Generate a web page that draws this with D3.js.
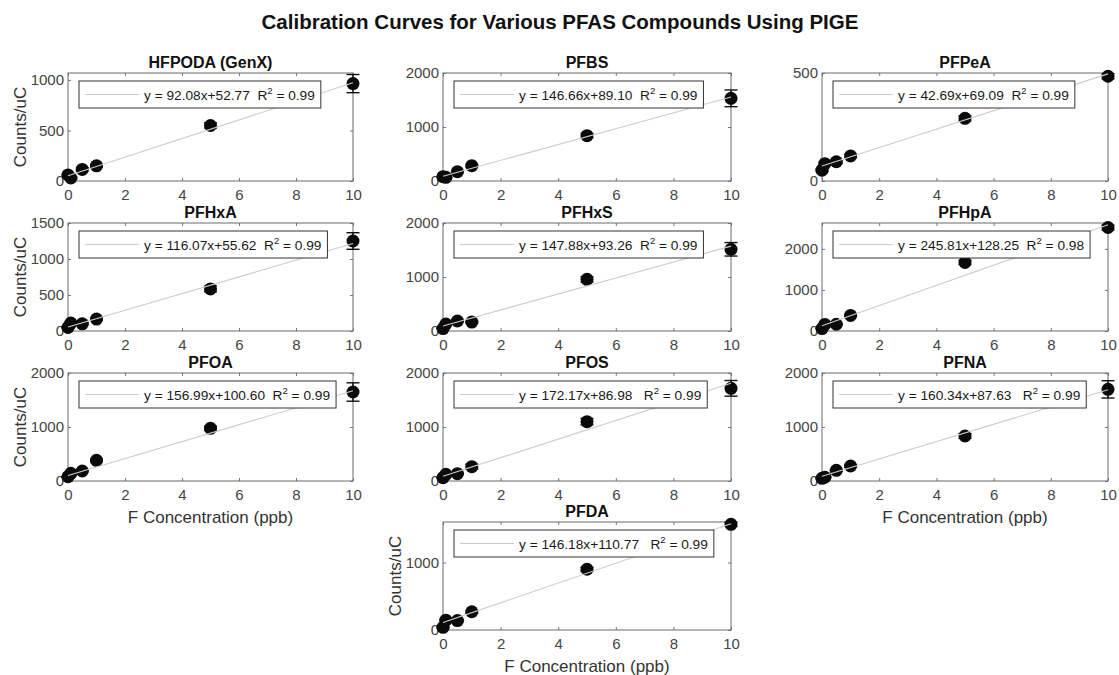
<!DOCTYPE html>
<html>
<head>
<meta charset="utf-8">
<script src="https://cdn.jsdelivr.net/npm/d3@7"></script>
<style>
  body { margin: 0; background: #fff; }
  svg { display: block; font-family: "Liberation Sans", Arial, sans-serif; }
  .legend-text { white-space: pre; }
</style>
</head>
<body>
<svg id="chart" width="1119" height="675"></svg>
<script>
// ---- data ----
const chartTitle = "Calibration Curves for Various PFAS Compounds Using PIGE";
const compounds = ["HFPODA (GenX)", "PFBS", "PFPeA", "PFHxA", "PFHxS", "PFHpA", "PFOA", "PFOS", "PFNA", "PFDA"];
const concentrations = [0, 0.1, 0.5, 1, 5, 10];   // F concentration (ppb)

// measured counts per uC, one row per compound
const counts = [
  [60, 30, 115, 150, 550, 965],
  [80, 68, 172, 283, 839, 1531],
  [50, 80, 89, 116, 290, 485],
  [50, 110, 100, 165, 585, 1250],
  [45, 130, 185, 165, 957, 1513],
  [60, 160, 165, 380, 1670, 2520],
  [80, 142, 185, 383, 975, 1648],
  [62, 123, 136, 265, 1099, 1716],
  [50, 70, 198, 278, 833, 1697],
  [40, 145, 140, 270, 900, 1566]
];
// standard deviation of counts per uC
const countErrors = [
  [10, 10, 15, 15, 25, 90],
  [10, 10, 15, 20, 40, 155],
  [5, 5, 8, 8, 12, 12],
  [10, 10, 15, 15, 40, 115],
  [10, 10, 15, 15, 50, 125],
  [10, 10, 15, 20, 50, 60],
  [10, 10, 15, 25, 40, 170],
  [10, 10, 15, 45, 60, 145],
  [10, 10, 15, 20, 45, 160],
  [10, 10, 15, 20, 30, 30]
];

// linear fit parameters
const slopes = [92.08, 146.66, 42.69, 116.07, 147.88, 245.81, 156.99, 172.17, 160.34, 146.18];
const intercepts = [52.77, 89.10, 69.09, 55.62, 93.26, 128.25, 100.60, 86.98, 87.63, 110.77];
const rSquared = [0.99, 0.99, 0.99, 0.99, 0.99, 0.98, 0.99, 0.99, 0.99, 0.99];
const labelGaps = [2, 2, 2, 2, 2, 2, 2, 3, 3, 3];

// axis limits and ticks
const yMax = [1070, 2000, 500, 1500, 2000, 2630, 2000, 2000, 2000, 1600];
const yTicks = [
  [0, 500, 1000],
  [0, 1000, 2000],
  [0, 500],
  [0, 500, 1000, 1500],
  [0, 1000, 2000],
  [0, 1000, 2000],
  [0, 1000, 2000],
  [0, 1000, 2000],
  [0, 1000, 2000],
  [0, 1000]
];
const xDomain = [0, 10];
const xTicks = [0, 2, 4, 6, 8, 10];
const xLabel = "F Concentration (ppb)";
const yLabel = "Counts/uC";

// ---- layout ----
const colBounds = [[68, 353], [443, 731], [822, 1108]];
const rowTops = [73, 223, 373, 522];
const boxH = 108;
const panelSlots = [[0,0],[1,0],[2,0],[0,1],[1,1],[2,1],[0,2],[1,2],[2,2],[1,3]];
const withYLabel = new Set([0, 3, 6, 9]);
const withXLabel = new Set([6, 8, 9]);

const svg = d3.select("#chart");

svg.append("text")
  .attr("x", 560).attr("y", 29)
  .attr("text-anchor", "middle")
  .attr("font-weight", "bold")
  .attr("font-size", 20.5)
  .attr("fill", "#111")
  .text(chartTitle);

const fitColor = "#d2caca";
const tickFmt = d3.format("d");

compounds.forEach((name, i) => {
  const [c, r] = panelSlots[i];
  const [x0, x1] = colBounds[c];
  const y0 = rowTops[r], y1 = y0 + boxH;

  const x = d3.scaleLinear().domain(xDomain).range([x0, x1]);
  const y = d3.scaleLinear().domain([0, yMax[i]]).range([y1, y0]);

  const g = svg.append("g");

  // axes (ticks point inward, as on a boxed plot)
  const styleAxis = sel => {
    sel.select(".domain").remove();
    sel.selectAll(".tick line").attr("stroke", "#777");
    sel.selectAll(".tick text").attr("fill", "#444").attr("font-size", 15)
      .attr("font-family", "Liberation Sans, Arial, sans-serif");
  };
  g.append("g").attr("transform", `translate(0,${y1})`)
    .call(d3.axisBottom(x).tickValues(xTicks).tickFormat(tickFmt).tickSizeInner(-3).tickSizeOuter(0).tickPadding(8))
    .call(styleAxis);
  g.append("g").attr("transform", `translate(0,${y0})`)
    .call(d3.axisTop(x).tickValues(xTicks).tickSizeInner(-3).tickSizeOuter(0).tickFormat(""))
    .call(styleAxis);
  g.append("g").attr("transform", `translate(${x0},0)`)
    .call(d3.axisLeft(y).tickValues(yTicks[i]).tickFormat(tickFmt).tickSizeInner(-3).tickSizeOuter(0).tickPadding(4))
    .call(styleAxis);
  g.append("g").attr("transform", `translate(${x1},0)`)
    .call(d3.axisRight(y).tickValues(yTicks[i]).tickSizeInner(-3).tickSizeOuter(0).tickFormat(""))
    .call(styleAxis);

  // plot box
  g.append("rect")
    .attr("x", x0).attr("y", y0)
    .attr("width", x1 - x0).attr("height", y1 - y0)
    .attr("fill", "none").attr("stroke", "#6a6a6a").attr("stroke-width", 1);

  const pts = concentrations.map((cx, k) => ({ cx, v: counts[i][k], e: countErrors[i][k] }));

  // error bars
  const eb = g.append("g").attr("stroke", "#111").attr("stroke-width", 1.4);
  pts.forEach(p => {
    const px = x(p.cx);
    eb.append("line").attr("x1", px).attr("x2", px).attr("y1", y(p.v - p.e)).attr("y2", y(p.v + p.e));
    [p.v - p.e, p.v + p.e].forEach(v => {
      eb.append("line").attr("x1", px - 6.5).attr("x2", px + 6.5).attr("y1", y(v)).attr("y2", y(v));
    });
  });

  // data points
  g.append("g").selectAll("circle").data(pts).join("circle")
    .attr("cx", p => x(p.cx)).attr("cy", p => y(p.v))
    .attr("r", 6.5).attr("fill", "#0a0a0a");

  // fitted line
  const fitLine = d3.line().x(d => x(d)).y(d => y(slopes[i] * d + intercepts[i]));
  g.append("path").datum(xDomain)
    .attr("d", fitLine)
    .attr("fill", "none").attr("stroke", fitColor).attr("stroke-width", 1.1);

  // legend
  const lx = x0 + 11, ly = y0 + 8, lh = 27;
  const lg = g.append("g");
  const lrect = lg.append("rect").attr("x", lx).attr("y", ly).attr("height", lh)
    .attr("fill", "#fff").attr("stroke", "#333").attr("stroke-width", 1);
  lg.append("line").attr("x1", lx + 6).attr("x2", lx + 60)
    .attr("y1", ly + lh / 2).attr("y2", ly + lh / 2)
    .attr("stroke", fitColor).attr("stroke-width", 1.1);
  const lt = lg.append("text").attr("class", "legend-text")
    .attr("x", lx + 65).attr("y", ly + 18.5)
    .attr("font-size", 13.7).attr("fill", "#1a1a1a");
  lt.append("tspan").text(`y = ${slopes[i].toFixed(2)}x+${intercepts[i].toFixed(2)}${" ".repeat(labelGaps[i])}R`);
  lt.append("tspan").attr("font-size", 9.5).attr("dy", -6).text("2");
  lt.append("tspan").attr("dy", 6).text(` = ${rSquared[i].toFixed(2)}`);
  const tw = lt.node().getComputedTextLength();
  lrect.attr("width", 65 + tw + 6);

  // panel title
  g.append("text")
    .attr("x", (x0 + x1) / 2).attr("y", y0 - 5)
    .attr("text-anchor", "middle").attr("font-weight", "bold")
    .attr("font-size", 16).attr("fill", "#111")
    .text(name);

  if (withYLabel.has(i)) {
    g.append("text")
      .attr("transform", `translate(${x0 - 48},${(y0 + y1) / 2}) rotate(-90)`)
      .attr("text-anchor", "middle").attr("dy", "0.35em")
      .attr("font-size", 17).attr("fill", "#333")
      .text(yLabel);
  }
  if (withXLabel.has(i)) {
    g.append("text")
      .attr("x", (x0 + x1) / 2).attr("y", y1 + 42)
      .attr("text-anchor", "middle")
      .attr("font-size", 17).attr("fill", "#333")
      .text(xLabel);
  }
});
</script>
</body>
</html>
